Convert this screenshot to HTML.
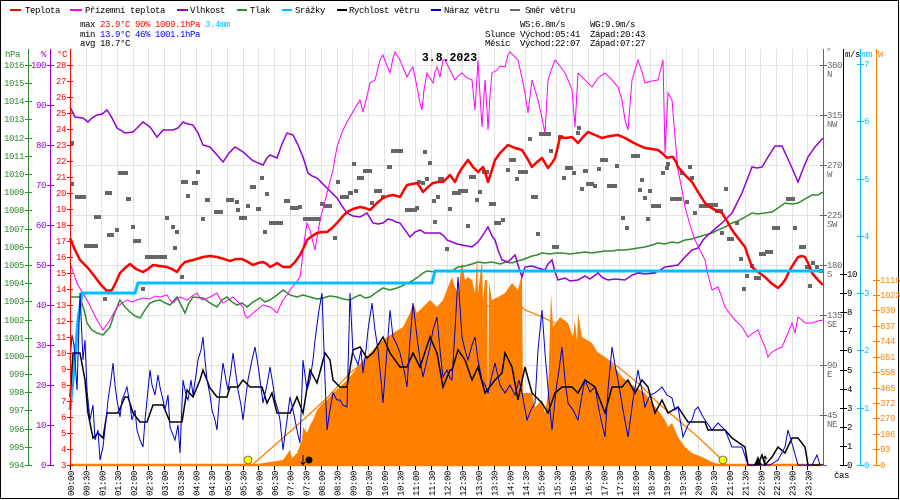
<!DOCTYPE html>
<html><head><meta charset="utf-8"><style>
html,body{margin:0;padding:0;background:#fff;}
svg{display:block;}
text{font-family:"Liberation Mono",monospace;font-size:9px;letter-spacing:-0.4px;}
</style></head><body>
<svg width="900" height="500" viewBox="0 0 900 500" xmlns="http://www.w3.org/2000/svg">
<rect x="0" y="0" width="900" height="500" fill="#fff"/>
<rect x="0.5" y="0.5" width="898" height="498" fill="none" stroke="#000" stroke-width="1"/>

<!-- grid -->
<g stroke="#e2e2e2" stroke-width="1">
<path d="M86.5,49V465M101.5,49V465M117.5,49V465M133.5,49V465M148.5,49V465M164.5,49V465M180.5,49V465M196.5,49V465M211.5,49V465M227.5,49V465M243.5,49V465M258.5,49V465M274.5,49V465M290.5,49V465M305.5,49V465M321.5,49V465M337.5,49V465M352.5,49V465M368.5,49V465M384.5,49V465M399.5,49V465M415.5,49V465M431.5,49V465M447.5,49V465M462.5,49V465M478.5,49V465M494.5,49V465M509.5,49V465M525.5,49V465M541.5,49V465M556.5,49V465M572.5,49V465M588.5,49V465M603.5,49V465M619.5,49V465M635.5,49V465M650.5,49V465M666.5,49V465M682.5,49V465M698.5,49V465M713.5,49V465M729.5,49V465M745.5,49V465M760.5,49V465M776.5,49V465M792.5,49V465M807.5,49V465"/>
<path d="M70,65.5H823M70,115.5H823M70,165.5H823M70,215.5H823M70,265.5H823M70,315.5H823M70,365.5H823M70,415.5H823"/>
</g>

<!-- legend -->
<g stroke-width="2">
<line x1="10" y1="10" x2="21" y2="10" stroke="#ff0000"/>
<line x1="70" y1="10" x2="82" y2="10" stroke="#ff00ff"/>
<line x1="177" y1="10" x2="188" y2="10" stroke="#9400d3"/>
<line x1="237" y1="10" x2="247" y2="10" stroke="#2e8b2e"/>
<line x1="282" y1="10" x2="292" y2="10" stroke="#00bfff"/>
<line x1="337" y1="10" x2="347" y2="10" stroke="#000"/>
<line x1="431" y1="10" x2="441" y2="10" stroke="#0000cd"/>
<line x1="510" y1="10" x2="520" y2="10" stroke="#666"/>
</g>
<g fill="#000">
<text x="25" y="13">Teplota</text>
<text x="85" y="13">Přízemní teplota</text>
<text x="190" y="13">Vlhkost</text>
<text x="250" y="13">Tlak</text>
<text x="295" y="13">Srážky</text>
<text x="349" y="13">Rychlost větru</text>
<text x="444" y="13">Náraz větru</text>
<text x="525" y="13">Směr větru</text>
</g>

<!-- stats -->
<text x="80" y="27"><tspan fill="#000">max </tspan><tspan fill="#ff0000">23.9°C  90%  1009.1hPa</tspan><tspan fill="#00bfff">   3.4mm</tspan></text>
<text x="80" y="37"><tspan fill="#000">min </tspan><tspan fill="#0000ff">13.9°C  46%  1001.1hPa</tspan></text>
<text x="80" y="46" fill="#000">avg 18.7°C</text>
<text x="520" y="27" fill="#000">WS:6.8m/s</text>
<text x="590" y="27" fill="#000">WG:9.9m/s</text>
<text x="485" y="37" fill="#000">Slunce Východ:05:41</text>
<text x="590" y="37" fill="#000">Západ:20:43</text>
<text x="485" y="46" fill="#000">Měsíc</text>
<text x="520" y="46" fill="#000">Východ:22:07</text>
<text x="590" y="46" fill="#000">Západ:07:27</text>

<!-- solar fill -->
<polygon fill="#ff8000" points="252,465 270,462 283,460 290,450 292,458 297,453 302,440 303,427 307,433 310,425 313,420 317,410 323,403 327,400 333,393 340,387 347,380 353,373 363,360 373,350 383,340 393,333 403,327 410,313 413,303 417,313 423,307 430,300 437,307 443,300 448,287 452,277 455,287 458,293 462,262 465,280 468,277 472,280 475,293 477,257 478,293 482,260 483,300 485,280 487,280 488,410 489,282 492,300 498,297 505,293 512,283 518,290 522,273 523,393 532,393 535,407 542,400 545,413 548,393 551,293 553,327 558,320 560,317 568,323 573,337 575,320 577,343 578,313 582,337 592,343 598,353 605,357 615,367 622,377 632,385 645,393 652,403 658,410 665,420 668,427 672,423 678,437 685,447 692,453 702,457 712,462 722,465"/>
<polyline fill="none" stroke="#ff8000" stroke-width="1.3" points="252,465 275,445 303,420 327,398 350,373 370,357 390,343 403,330 420,320 437,313 450,307 465,305 478,306 500,306 522,307 525,310 540,316 555,323 578,340 598,353 618,367 638,383 658,403 678,420 698,437 715,453 722,460 725,465"/>
<line x1="70" y1="465" x2="823" y2="465" stroke="#ff8000" stroke-width="2.5"/>

<!-- wind direction -->
<g fill="#666">
<rect x="70" y="141" width="4" height="4"/><rect x="70" y="182" width="4" height="4"/><rect x="75" y="195" width="11" height="4"/><rect x="94" y="215" width="7" height="4"/><rect x="105" y="191" width="7" height="4"/><rect x="107" y="233" width="7" height="4"/><rect x="115" y="228" width="4" height="4"/><rect x="118" y="171" width="10" height="4"/><rect x="126" y="197" width="5" height="4"/><rect x="131" y="225" width="4" height="4"/><rect x="133" y="239" width="8" height="4"/><rect x="84" y="244" width="14" height="4"/><rect x="103" y="297" width="4" height="4"/><rect x="145" y="255" width="22" height="4"/><rect x="141" y="287" width="4" height="4"/><rect x="165" y="216" width="4" height="4"/><rect x="171" y="225" width="4" height="4"/><rect x="175" y="230" width="4" height="4"/><rect x="173" y="246" width="4" height="4"/><rect x="180" y="275" width="4" height="4"/><rect x="181" y="180" width="7" height="4"/><rect x="186" y="194" width="4" height="4"/><rect x="192" y="181" width="6" height="4"/><rect x="196" y="170" width="4" height="4"/><rect x="201" y="217" width="4" height="4"/><rect x="205" y="198" width="5" height="4"/><rect x="214" y="210" width="9" height="4"/><rect x="226" y="198" width="8" height="4"/><rect x="235" y="200" width="4" height="4"/><rect x="236" y="208" width="4" height="4"/><rect x="239" y="216" width="8" height="4"/><rect x="246" y="204" width="4" height="4"/><rect x="250" y="185" width="6" height="4"/><rect x="256" y="207" width="5" height="4"/><rect x="260" y="176" width="4" height="4"/><rect x="263" y="230" width="4" height="4"/><rect x="265" y="192" width="4" height="4"/><rect x="269" y="221" width="14" height="4"/><rect x="284" y="199" width="6" height="4"/><rect x="290" y="206" width="9" height="4"/><rect x="298" y="205" width="4" height="4"/><rect x="303" y="217" width="18" height="4"/><rect x="320" y="202" width="4" height="4"/><rect x="324" y="204" width="8" height="4"/><rect x="333" y="236" width="4" height="4"/><rect x="336" y="180" width="4" height="4"/><rect x="340" y="195" width="9" height="4"/><rect x="348" y="191" width="5" height="4"/><rect x="352" y="162" width="4" height="4"/><rect x="354" y="189" width="4" height="4"/><rect x="357" y="176" width="7" height="4"/><rect x="363" y="169" width="9" height="4"/><rect x="370" y="201" width="4" height="4"/><rect x="374" y="189" width="8" height="4"/><rect x="381" y="195" width="4" height="4"/><rect x="387" y="165" width="5" height="4"/><rect x="391" y="149" width="12" height="4"/><rect x="405" y="208" width="12" height="4"/><rect x="415" y="206" width="4" height="4"/><rect x="417" y="180" width="4" height="4"/><rect x="421" y="181" width="4" height="4"/><rect x="423" y="150" width="4" height="4"/><rect x="425" y="177" width="4" height="4"/><rect x="428" y="161" width="4" height="4"/><rect x="432" y="199" width="4" height="4"/><rect x="433" y="220" width="4" height="4"/><rect x="436" y="195" width="4" height="4"/><rect x="438" y="177" width="6" height="4"/><rect x="445" y="247" width="4" height="4"/>
<rect x="448" y="207" width="4" height="4"/><rect x="452" y="191" width="9" height="4"/><rect x="458" y="189" width="10" height="4"/><rect x="466" y="224" width="4" height="4"/><rect x="469" y="175" width="7" height="4"/><rect x="475" y="198" width="4" height="4"/><rect x="478" y="190" width="4" height="4"/><rect x="482" y="170" width="7" height="4"/><rect x="489" y="202" width="7" height="4"/><rect x="494" y="221" width="7" height="4"/><rect x="501" y="218" width="4" height="4"/><rect x="506" y="168" width="4" height="4"/><rect x="509" y="158" width="7" height="4"/><rect x="515" y="177" width="4" height="4"/><rect x="518" y="170" width="10" height="4"/><rect x="528" y="137" width="4" height="4"/><rect x="531" y="195" width="7" height="4"/><rect x="536" y="232" width="4" height="4"/><rect x="539" y="132" width="12" height="4"/><rect x="549" y="149" width="4" height="4"/><rect x="552" y="245" width="7" height="4"/><rect x="558" y="135" width="5" height="4"/><rect x="562" y="176" width="4" height="4"/><rect x="565" y="166" width="8" height="4"/><rect x="572" y="171" width="4" height="4"/><rect x="576" y="131" width="4" height="4"/><rect x="577" y="126" width="4" height="4"/><rect x="580" y="187" width="4" height="4"/><rect x="583" y="169" width="5" height="4"/><rect x="586" y="182" width="8" height="4"/><rect x="593" y="184" width="4" height="4"/><rect x="597" y="167" width="4" height="4"/><rect x="600" y="158" width="8" height="4"/><rect x="607" y="184" width="10" height="4"/><rect x="615" y="164" width="4" height="4"/><rect x="621" y="216" width="4" height="4"/><rect x="625" y="226" width="4" height="4"/><rect x="631" y="154" width="9" height="4"/><rect x="638" y="188" width="4" height="4"/><rect x="640" y="178" width="4" height="4"/><rect x="643" y="196" width="4" height="4"/><rect x="646" y="217" width="4" height="4"/><rect x="648" y="189" width="4" height="4"/><rect x="651" y="204" width="10" height="4"/><rect x="661" y="171" width="4" height="4"/><rect x="665" y="166" width="4" height="4"/><rect x="666" y="162" width="4" height="4"/><rect x="670" y="197" width="12" height="4"/><rect x="680" y="171" width="4" height="4"/><rect x="685" y="200" width="4" height="4"/><rect x="688" y="165" width="4" height="4"/><rect x="690" y="176" width="4" height="4"/><rect x="693" y="211" width="4" height="4"/><rect x="699" y="204" width="10" height="4"/><rect x="708" y="203" width="10" height="4"/><rect x="715" y="209" width="8" height="4"/><rect x="720" y="231" width="4" height="4"/><rect x="724" y="187" width="4" height="4"/><rect x="727" y="237" width="7" height="4"/><rect x="735" y="221" width="4" height="4"/><rect x="739" y="257" width="4" height="4"/><rect x="742" y="287" width="4" height="4"/><rect x="745" y="274" width="4" height="4"/><rect x="750" y="264" width="4" height="4"/><rect x="754" y="276" width="7" height="4"/><rect x="759" y="252" width="7" height="4"/><rect x="765" y="250" width="8" height="4"/><rect x="772" y="226" width="8" height="4"/><rect x="786" y="197" width="9" height="4"/><rect x="793" y="226" width="4" height="4"/><rect x="799" y="245" width="7" height="4"/><rect x="805" y="265" width="4" height="4"/><rect x="808" y="284" width="4" height="4"/><rect x="811" y="261" width="4" height="4"/><rect x="815" y="265" width="4" height="4"/><rect x="819" y="269" width="4" height="4"/>
</g>

<!-- pressure -->
<polyline fill="none" stroke="#2e8b2e" stroke-width="1.5" points="70,297 80,297 84,310 87,323 92,330 97,333 103,335 110,327 115,312 120,300 125,307 130,312 135,316 140,318 145,310 150,303 155,301 160,300 165,303 170,305 177,297 181,305 185,313 189,303 193,297 203,298 210,303 217,307 222,300 227,297 232,302 237,305 242,303 247,307 253,302 260,298 265,302 270,300 277,295 283,290 290,295 297,297 303,295 310,297 317,299 323,298 330,296 337,297 343,299 350,300 355,297 360,295 365,298 370,297 377,292 383,288 390,290 397,288 402,286 407,283 412,281 418,277 423,273 427,271 435,272 442,271 450,272 458,267 465,266 472,264 478,262 485,263 492,262 500,264 506,262 512,263 517,261 522,260 527,258 532,256 537,255 542,253 550,254 556,253 562,253 570,254 578,253 585,252 592,253 598,252 605,251 612,251 618,250 625,250 632,249 638,248 645,247 652,245 658,243 665,244 672,242 678,243 685,240 692,239 698,237 705,235 712,233 718,230 725,227 732,223 738,221 745,217 752,213 758,214 765,213 772,212 778,208 785,203 792,204 798,203 805,199 812,195 818,195 823,192"/>

<!-- humidity -->
<polyline fill="none" stroke="#9400d3" stroke-width="1.5" points="70,107 75,117 83,118 88,122 92,118 97,115 102,114 107,110 112,118 117,128 125,133 133,132 138,127 143,122 150,127 157,137 163,130 173,130 178,128 183,122 188,124 193,125 198,133 203,145 210,147 217,155 223,162 229,153 235,147 243,152 252,160 258,163 263,165 267,158 270,155 277,158 282,144 287,133 293,135 298,145 303,157 308,173 312,176 317,178 322,183 327,188 332,193 337,198 342,206 347,213 353,216 360,217 367,213 373,223 378,224 383,223 388,219 392,220 396,222 400,223 405,230 410,237 415,232 420,230 425,233 430,233 435,233 440,233 444,236 447,240 452,242 457,244 462,245 467,246 472,247 478,242 483,235 488,227 492,236 495,240 498,250 502,260 508,262 515,255 518,265 522,277 525,267 532,266 538,268 545,270 548,264 552,260 555,272 558,280 565,278 570,281 578,280 585,276 590,279 598,273 603,278 608,280 615,279 625,280 632,275 638,273 645,274 655,273 660,270 665,267 672,266 678,265 685,257 692,250 698,248 703,240 708,235 715,229 722,223 727,218 732,213 737,203 742,193 747,180 752,167 757,168 762,167 768,157 775,146 782,146 787,157 792,168 798,182 803,169 808,157 815,147 823,138"/>

<!-- apparent temperature -->
<polyline fill="none" stroke="#ff00ff" stroke-width="1" points="70,263 77,283 82,292 87,300 92,310 97,320 103,330 110,320 117,307 122,303 127,300 132,302 137,300 143,298 150,299 155,296 160,297 167,295 170,300 173,303 177,299 180,297 187,300 192,296 197,293 200,298 203,300 210,297 217,293 220,299 223,303 228,300 233,297 238,302 243,307 245,315 247,318 250,316 253,313 258,309 263,305 267,306 270,307 274,310 277,313 280,306 283,300 287,295 290,290 295,284 300,277 302,262 303,250 305,236 307,223 310,230 313,242 315,250 318,232 320,220 324,205 327,193 330,181 333,170 335,158 337,147 340,138 343,130 347,122 350,117 355,108 360,100 363,112 367,96 370,83 375,80 378,68 380,60 383,55 387,66 390,73 393,58 395,52 398,57 400,60 404,70 407,77 410,71 413,67 416,82 420,103 422,110 424,90 427,73 430,78 433,83 435,72 437,67 440,77 443,60 445,60 450,70 455,80 458,76 462,73 467,78 472,80 475,110 478,60 480,95 482,127 485,80 487,110 488,130 490,95 492,73 497,70 500,66 505,67 508,55 510,52 514,56 518,60 522,78 525,93 528,113 532,80 535,90 538,100 542,118 545,133 548,80 552,68 555,60 560,66 565,73 568,80 572,90 575,127 578,73 585,80 592,87 598,78 605,73 612,80 618,87 622,100 625,120 628,130 632,80 635,70 638,60 642,72 645,83 652,81 658,80 661,68 663,60 665,153 668,93 672,100 675,137 678,170 682,190 685,207 690,225 695,240 700,250 705,260 708,275 712,290 718,287 722,298 725,307 730,314 735,320 742,327 748,337 753,333 758,330 762,340 765,347 768,357 771,353 775,350 782,347 788,333 792,323 795,333 798,317 802,320 805,323 812,323 818,321 823,320"/>

<!-- temperature -->
<polyline fill="none" stroke="#ff0000" stroke-width="2.5" stroke-linejoin="round" points="70,238 75,250 80,260 88,268 95,277 101,285 107,291 112,290 116,282 120,273 125,268 130,264 136,269 143,272 148,269 153,265 160,266 167,267 172,269 177,272 181,266 185,262 193,260 203,257 210,256 217,257 224,259 230,261 236,259 242,259 248,262 253,265 258,263 263,262 267,264 270,267 274,265 277,263 280,265 283,267 290,267 295,262 300,255 304,247 307,240 312,236 317,233 322,232 327,232 332,228 337,223 342,217 347,212 353,209 360,207 365,208 370,210 377,203 383,198 388,196 393,195 397,196 400,197 404,190 407,185 412,184 417,183 420,187 423,192 428,187 433,183 438,182 443,182 447,178 450,175 455,182 458,175 462,168 468,160 473,167 478,172 483,167 486,175 488,182 492,170 495,160 500,153 505,148 508,145 515,148 522,150 527,158 532,167 537,162 542,158 545,163 548,168 552,163 555,158 558,146 560,137 566,138 572,137 575,140 578,143 583,137 588,132 595,135 602,138 610,136 618,135 625,138 632,142 638,145 645,148 652,149 658,150 663,154 667,158 670,157 673,157 676,162 678,167 685,175 692,182 698,192 705,203 710,207 715,210 718,211 722,213 727,221 732,230 738,238 745,247 748,256 752,267 758,272 765,277 771,283 778,288 782,284 785,280 791,268 798,257 802,256 805,257 809,265 812,273 818,280 823,285"/>

<!-- precipitation -->
<polyline fill="none" stroke="#00bfff" stroke-width="3" points="70,410 74,370 78,320 82,293 135,293 138,283 432,283 435,271 823,271"/>

<!-- wind speed -->
<polyline fill="none" stroke="#000" stroke-width="1.5" points="70,397 73,353 80,353 85,380 88,413 93,438 98,433 103,438 107,413 118,413 125,397 128,397 133,413 140,422 147,422 153,405 163,405 170,422 182,422 187,390 193,397 200,380 203,370 210,388 217,397 227,397 230,387 238,387 243,380 250,387 262,387 267,403 272,393 277,413 290,413 297,397 303,413 310,370 317,383 325,353 330,360 333,380 340,387 347,387 353,350 360,347 367,358 373,353 383,337 390,353 400,367 407,367 413,353 420,367 430,337 437,353 443,387 450,370 452,370 458,350 465,360 472,380 478,367 485,393 495,380 502,373 505,353 512,367 518,400 525,367 532,393 542,403 548,413 555,393 562,387 572,387 578,393 585,380 595,387 605,413 612,387 622,387 628,380 635,393 642,380 648,387 655,413 662,400 668,413 678,407 688,422 705,422 708,430 725,430 732,438 745,447 748,465 758,465 762,455 765,465 772,457 778,447 785,453 792,438 798,438 805,447 808,465 823,465"/>

<!-- wind gust -->
<polyline fill="none" stroke="#0000cd" stroke-width="1" points="70,360 72,335 74,345 77,390 80,293 83,360 85,340 87,390 90,420 93,405 95,440 98,430 100,460 103,447 106,420 108,400 111,380 113,363 115,385 117,400 120,417 122,400 124,395 127,387 130,405 132,420 135,410 137,430 140,440 143,447 145,420 147,400 150,370 152,385 155,395 158,375 160,387 163,400 165,410 168,395 170,427 173,435 175,440 178,425 180,453 183,380 186,395 188,400 191,380 193,395 196,375 198,360 201,350 203,337 205,360 207,380 210,395 212,410 215,420 217,430 220,390 223,363 226,380 228,390 231,370 233,353 236,375 238,390 241,405 243,420 246,395 248,380 252,360 255,347 258,365 260,380 263,403 267,385 270,367 273,385 275,400 278,410 280,420 283,450 287,420 290,397 293,410 295,420 298,435 300,443 303,360 305,375 307,390 310,380 313,360 315,340 319,310 322,293 325,380 327,430 330,410 333,393 337,400 340,400 343,405 347,407 350,293 353,353 356,360 358,365 361,350 363,373 366,350 368,330 372,303 375,330 378,350 381,380 383,403 387,350 390,310 393,337 397,345 400,353 404,370 407,387 410,340 413,303 417,337 420,360 423,377 427,360 430,347 433,330 437,317 440,350 443,377 447,370 450,378 452,380 455,330 458,277 462,337 465,350 468,360 472,345 475,337 478,360 482,380 485,385 488,393 492,375 495,363 500,385 505,393 510,385 515,395 519,380 522,393 527,420 531,410 535,403 538,350 542,310 545,353 549,400 552,430 556,390 559,370 562,347 565,380 568,403 573,410 578,420 582,395 585,380 590,392 595,387 600,415 605,437 608,390 612,347 615,365 618,380 623,410 628,437 633,400 638,370 642,390 645,407 650,395 655,393 662,387 667,395 672,398 675,410 678,407 683,437 688,425 692,420 695,410 698,407 702,415 705,420 712,430 718,423 725,430 732,447 742,447 748,465 758,465 770,465 778,460 785,447 788,430 793,447 798,465 812,465 817,455 820,465 823,465"/>

<!-- sun / moon markers -->
<circle cx="248" cy="460" r="4" fill="#ffff00" stroke="#555" stroke-width="0.8"/>
<circle cx="723" cy="460" r="4" fill="#ffff00" stroke="#555" stroke-width="0.8"/>
<circle cx="309" cy="460" r="3.5" fill="#000"/>
<path d="M303,455V465M301,462L303,465L305,462" stroke="#000" stroke-width="1" fill="none"/>
<path d="M754,465L758,456L762,465Z" fill="#000"/>
<path d="M765,456V465M763,459L765,456L767,459" stroke="#000" stroke-width="1" fill="none"/>

<!-- left axes -->
<g stroke-width="1">
<line x1="28.5" y1="49" x2="28.5" y2="466" stroke="#2e8b2e"/>
<line x1="50.5" y1="49" x2="50.5" y2="466" stroke="#9400d3"/>
<line x1="70.5" y1="49" x2="70.5" y2="466" stroke="#ff0000"/>
<path stroke="#2e8b2e" d="M25,465.5H32M25,447.5H32M25,429.5H32M25,410.5H32M25,392.5H32M25,374.5H32M25,356.5H32M25,338.5H32M25,320.5H32M25,301.5H32M25,283.5H32M25,265.5H32M25,247.5H32M25,229.5H32M25,210.5H32M25,192.5H32M25,174.5H32M25,156.5H32M25,138.5H32M25,119.5H32M25,101.5H32M25,83.5H32M25,65.5H32"/>
<path stroke="#9400d3" d="M47,465.5H54M47,425.5H54M47,385.5H54M47,345.5H54M47,305.5H54M47,265.5H54M47,225.5H54M47,185.5H54M47,145.5H54M47,105.5H54M47,65.5H54"/>
<path stroke="#ff0000" d="M67,465.5H73M67,449.5H73M67,433.5H73M67,417.5H73M67,401.5H73M67,385.5H73M67,369.5H73M67,353.5H73M67,337.5H73M67,321.5H73M67,305.5H73M67,289.5H73M67,273.5H73M67,257.5H73M67,241.5H73M67,225.5H73M67,209.5H73M67,193.5H73M67,177.5H73M67,161.5H73M67,145.5H73M67,129.5H73M67,113.5H73M67,97.5H73M67,81.5H73M67,65.5H73"/>
</g>
<g fill="#2e8b2e" text-anchor="end">
<text x="5" y="57" text-anchor="start">hPa</text>
<text x="24" y="468">994</text><text x="24" y="450">995</text><text x="24" y="432">996</text><text x="24" y="413">997</text><text x="24" y="395">998</text><text x="24" y="377">999</text><text x="24" y="359">1000</text><text x="24" y="341">1001</text><text x="24" y="323">1002</text><text x="24" y="304">1003</text><text x="24" y="286">1004</text><text x="24" y="268">1005</text><text x="24" y="250">1006</text><text x="24" y="232">1007</text><text x="24" y="213">1008</text><text x="24" y="195">1009</text><text x="24" y="177">1010</text><text x="24" y="159">1011</text><text x="24" y="141">1012</text><text x="24" y="122">1013</text><text x="24" y="104">1014</text><text x="24" y="86">1015</text><text x="24" y="68">1016</text>
</g>
<g fill="#9400d3" text-anchor="end">
<text x="46" y="57">%</text>
<text x="46" y="468">0</text><text x="46" y="428">10</text><text x="46" y="388">20</text><text x="46" y="348">30</text><text x="46" y="308">40</text><text x="46" y="268">50</text><text x="46" y="228">60</text><text x="46" y="188">70</text><text x="46" y="148">80</text><text x="46" y="108">90</text><text x="46" y="68">100</text>
</g>
<g fill="#ff0000" text-anchor="end">
<text x="67" y="57">°C</text>
<text x="66" y="468">3</text><text x="66" y="452">4</text><text x="66" y="436">5</text><text x="66" y="420">6</text><text x="66" y="404">7</text><text x="66" y="388">8</text><text x="66" y="372">9</text><text x="66" y="356">10</text><text x="66" y="340">11</text><text x="66" y="324">12</text><text x="66" y="308">13</text><text x="66" y="292">14</text><text x="66" y="276">15</text><text x="66" y="260">16</text><text x="66" y="244">17</text><text x="66" y="228">18</text><text x="66" y="212">19</text><text x="66" y="196">20</text><text x="66" y="180">21</text><text x="66" y="164">22</text><text x="66" y="148">23</text><text x="66" y="132">24</text><text x="66" y="116">25</text><text x="66" y="100">26</text><text x="66" y="84">27</text><text x="66" y="68">28</text>
</g>

<!-- right axes -->
<g stroke-width="1">
<line x1="823.5" y1="49" x2="823.5" y2="466" stroke="#666"/>
<line x1="843.5" y1="49" x2="843.5" y2="466" stroke="#000"/>
<line x1="860.5" y1="49" x2="860.5" y2="466" stroke="#00bfff"/>
<line x1="876.5" y1="49" x2="876.5" y2="466" stroke="#ff8000"/>
<path stroke="#666" d="M820,65.5H827M820,115.5H827M820,165.5H827M820,215.5H827M820,265.5H827M820,315.5H827M820,365.5H827M820,415.5H827M820,465.5H827"/>
<path stroke="#000" d="M840,465.5H847M840,446.5H847M840,427.5H847M840,408.5H847M840,389.5H847M840,370.5H847M840,350.5H847M840,331.5H847M840,312.5H847M840,293.5H847M840,274.5H847"/>
<path stroke="#00bfff" d="M857,465.5H864M857,408.5H864M857,350.5H864M857,293.5H864M857,236.5H864M857,179.5H864M857,121.5H864M857,64.5H864"/>
<path stroke="#ff8000" d="M873,465.5H880M873,449.5H880M873,434.5H880M873,418.5H880M873,403.5H880M873,388.5H880M873,372.5H880M873,357.5H880M873,341.5H880M873,326.5H880M873,310.5H880M873,295.5H880M873,280.5H880"/>
</g>
<g fill="#666">
<text x="826" y="54">°</text>
<text x="827" y="68">360</text><text x="827" y="77">N</text>
<text x="827" y="118">315</text><text x="827" y="127">NW</text>
<text x="827" y="168">270</text><text x="827" y="177">W</text>
<text x="827" y="218">225</text><text x="827" y="227">SW</text>
<text x="827" y="268">180</text><text x="827" y="277">S</text>
<text x="827" y="318">135</text><text x="827" y="327">SE</text>
<text x="827" y="368">90</text><text x="827" y="377">E</text>
<text x="827" y="418">45</text><text x="827" y="427">NE</text>
</g>
<g fill="#000">
<text x="845" y="57">m/s</text>
<text x="847" y="468">0</text><text x="847" y="449">1</text><text x="847" y="430">2</text><text x="847" y="411">3</text><text x="847" y="392">4</text><text x="847" y="373">5</text><text x="847" y="353">6</text><text x="847" y="334">7</text><text x="847" y="315">8</text><text x="847" y="296">9</text><text x="847" y="277">10</text>
<text x="834" y="478">čas</text>
</g>
<g fill="#00bfff">
<text x="862" y="57">mm</text>
<text x="864" y="468">0</text><text x="864" y="411">1</text><text x="864" y="353">2</text><text x="864" y="296">3</text><text x="864" y="239">4</text><text x="864" y="182">5</text><text x="864" y="124">6</text><text x="864" y="67">7</text>
</g>
<g fill="#ff8000">
<text x="878" y="57">W</text>
<text x="880" y="468">0</text><text x="880" y="452">93</text><text x="880" y="437">186</text><text x="880" y="421">279</text><text x="880" y="406">372</text><text x="880" y="391">465</text><text x="880" y="375">558</text><text x="880" y="360">651</text><text x="880" y="344">744</text><text x="880" y="329">837</text><text x="880" y="313">930</text><text x="880" y="298">1023</text><text x="880" y="283">1116</text>
</g>

<!-- title -->
<text x="449.5" y="61" text-anchor="middle" style="font-size:11.5px;font-weight:bold;letter-spacing:0" fill="#000">3.8.2023</text>

<!-- x ticks -->
<path stroke="#000" stroke-width="1" d="M70.5,466V470M86.5,466V470M101.5,466V470M117.5,466V470M133.5,466V470M148.5,466V470M164.5,466V470M180.5,466V470M196.5,466V470M211.5,466V470M227.5,466V470M243.5,466V470M258.5,466V470M274.5,466V470M290.5,466V470M305.5,466V470M321.5,466V470M337.5,466V470M352.5,466V470M368.5,466V470M384.5,466V470M399.5,466V470M415.5,466V470M431.5,466V470M447.5,466V470M462.5,466V470M478.5,466V470M494.5,466V470M509.5,466V470M525.5,466V470M541.5,466V470M556.5,466V470M572.5,466V470M588.5,466V470M603.5,466V470M619.5,466V470M635.5,466V470M650.5,466V470M666.5,466V470M682.5,466V470M698.5,466V470M713.5,466V470M729.5,466V470M745.5,466V470M760.5,466V470M776.5,466V470M792.5,466V470M807.5,466V470"/>

<!-- x labels -->
<g fill="#000">
<text transform="translate(74,496) rotate(-90)">00:00</text>
<text transform="translate(89.7,496) rotate(-90)">00:30</text>
<text transform="translate(105.4,496) rotate(-90)">01:00</text>
<text transform="translate(121.1,496) rotate(-90)">01:30</text>
<text transform="translate(136.8,496) rotate(-90)">02:00</text>
<text transform="translate(152.4,496) rotate(-90)">02:30</text>
<text transform="translate(168.1,496) rotate(-90)">03:00</text>
<text transform="translate(183.8,496) rotate(-90)">03:30</text>
<text transform="translate(199.5,496) rotate(-90)">04:00</text>
<text transform="translate(215.2,496) rotate(-90)">04:30</text>
<text transform="translate(230.9,496) rotate(-90)">05:00</text>
<text transform="translate(246.6,496) rotate(-90)">05:30</text>
<text transform="translate(262.3,496) rotate(-90)">06:00</text>
<text transform="translate(277.9,496) rotate(-90)">06:30</text>
<text transform="translate(293.6,496) rotate(-90)">07:00</text>
<text transform="translate(309.3,496) rotate(-90)">07:30</text>
<text transform="translate(325,496) rotate(-90)">08:00</text>
<text transform="translate(340.7,496) rotate(-90)">08:30</text>
<text transform="translate(356.4,496) rotate(-90)">09:00</text>
<text transform="translate(372.1,496) rotate(-90)">09:30</text>
<text transform="translate(387.8,496) rotate(-90)">10:00</text>
<text transform="translate(403.4,496) rotate(-90)">10:30</text>
<text transform="translate(419.1,496) rotate(-90)">11:00</text>
<text transform="translate(434.8,496) rotate(-90)">11:30</text>
<text transform="translate(450.5,496) rotate(-90)">12:00</text>
<text transform="translate(466.2,496) rotate(-90)">12:30</text>
<text transform="translate(481.9,496) rotate(-90)">13:00</text>
<text transform="translate(497.6,496) rotate(-90)">13:30</text>
<text transform="translate(513.3,496) rotate(-90)">14:00</text>
<text transform="translate(528.9,496) rotate(-90)">14:30</text>
<text transform="translate(544.6,496) rotate(-90)">15:00</text>
<text transform="translate(560.3,496) rotate(-90)">15:30</text>
<text transform="translate(576,496) rotate(-90)">16:00</text>
<text transform="translate(591.7,496) rotate(-90)">16:30</text>
<text transform="translate(607.4,496) rotate(-90)">17:00</text>
<text transform="translate(623.1,496) rotate(-90)">17:30</text>
<text transform="translate(638.8,496) rotate(-90)">18:00</text>
<text transform="translate(654.4,496) rotate(-90)">18:30</text>
<text transform="translate(670.1,496) rotate(-90)">19:00</text>
<text transform="translate(685.8,496) rotate(-90)">19:30</text>
<text transform="translate(701.5,496) rotate(-90)">20:00</text>
<text transform="translate(717.2,496) rotate(-90)">20:30</text>
<text transform="translate(732.9,496) rotate(-90)">21:00</text>
<text transform="translate(748.6,496) rotate(-90)">21:30</text>
<text transform="translate(764.3,496) rotate(-90)">22:00</text>
<text transform="translate(779.9,496) rotate(-90)">22:30</text>
<text transform="translate(795.6,496) rotate(-90)">23:00</text>
<text transform="translate(811.3,496) rotate(-90)">23:30</text>
</g>
</svg>
</body></html>
